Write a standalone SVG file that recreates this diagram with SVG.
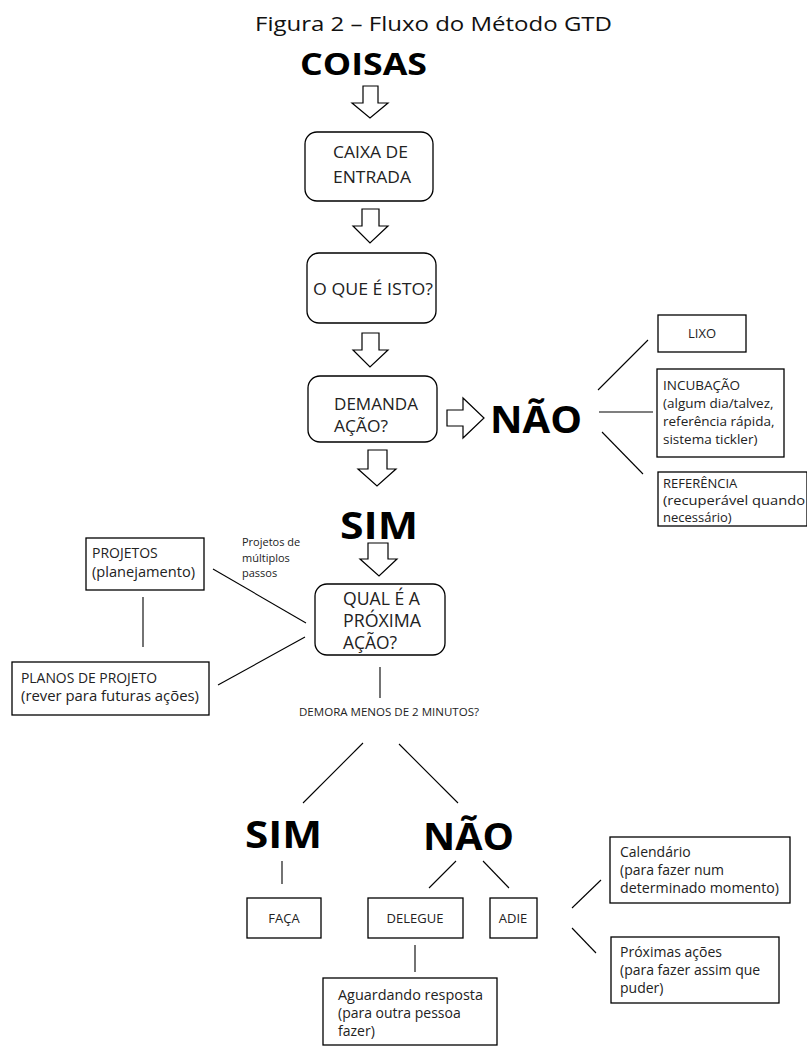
<svg xmlns="http://www.w3.org/2000/svg" width="807" height="1048" viewBox="0 0 807 1048">
<style>
  .bg{fill:#fff}
  .box{fill:#fff;stroke:#000;stroke-width:1.3}
  .arr{fill:#fff;stroke:#000;stroke-width:1.2;stroke-linejoin:miter}
  .ln{stroke:#000;stroke-width:1.1;fill:none}
  text{font-family:"Open Sans","Noto Sans","Liberation Sans",sans-serif;fill:#111}
  .title{font-size:20px}
  .big{font-size:38px;font-weight:700;fill:#000}
  .cap{font-size:17px;fill:#222}
  .sm{font-size:14px;fill:#222}
  .xs{font-size:11px;fill:#222}
  .mid{text-anchor:middle}
</style>
<rect class="bg" x="0" y="0" width="807" height="1048"/>

<g id="title"><text class="title" x="255" y="31" textLength="357" lengthAdjust="spacingAndGlyphs">Figura 2 – Fluxo do Método GTD</text></g>

<g id="coisas"><text class="big" x="300" y="75" style="font-size:31px" textLength="127" lengthAdjust="spacingAndGlyphs">COISAS</text></g>

<g id="arrows">
  <polygon class="arr" points="363,86 378,86 378,103 388,103 370,118 352,103 363,103"/>
  <polygon class="arr" points="362,209 379,209 379,226 388,226 370,243 353,226 362,226"/>
  <polygon class="arr" points="362,333 379,333 379,350 388,350 370,367 353,350 362,350"/>
  <polygon class="arr" points="447,410 463,410 463,398 484,418 463,438 463,426 447,426"/>
  <polygon class="arr" points="368,450 387,450 387,469 396,469 377,486 358,469 368,469"/>
  <polygon class="arr" points="368,543 388,543 388,559 397,559 379,576 360,559 368,559"/>
</g>

<g id="caixa">
  <rect class="box" x="305" y="132" width="128" height="69" rx="12"/>
  <text class="cap" x="333" y="158" textLength="75" lengthAdjust="spacingAndGlyphs">CAIXA DE</text>
  <text class="cap" x="333" y="183" textLength="78" lengthAdjust="spacingAndGlyphs">ENTRADA</text>
</g>

<g id="oque">
  <rect class="box" x="307" y="253" width="129" height="70" rx="12"/>
  <text class="cap" x="313" y="295" textLength="120" lengthAdjust="spacingAndGlyphs">O QUE É ISTO?</text>
</g>

<g id="demanda">
  <rect class="box" x="308" y="376" width="129" height="66" rx="12"/>
  <text class="cap" x="334" y="410" textLength="84" lengthAdjust="spacingAndGlyphs">DEMANDA</text>
  <text class="cap" x="334" y="432" textLength="54" lengthAdjust="spacingAndGlyphs">AÇÃO?</text>
</g>

<g id="nao1"><text class="big" x="490" y="433" textLength="92" lengthAdjust="spacingAndGlyphs">NÃO</text></g>

<g id="lixo">
  <rect class="box" x="658" y="315" width="88" height="37"/>
  <text class="sm mid" x="702" y="338" style="font-size:13px">LIXO</text>
</g>

<g id="incubacao">
  <rect class="box" x="657" y="369" width="127" height="88"/>
  <text class="sm" x="663" y="390" style="font-size:13.5px">INCUBAÇÃO</text>
  <text class="sm" x="663" y="408" style="font-size:13.5px">(algum dia/talvez,</text>
  <text class="sm" x="663" y="426" style="font-size:13.5px">referência rápida,</text>
  <text class="sm" x="663" y="444" style="font-size:13.5px">sistema tickler)</text>
</g>

<g id="referencia">
  <rect class="box" x="658" y="472" width="149" height="54"/>
  <text class="sm" x="663" y="488" style="font-size:13px">REFERÊNCIA</text>
  <text class="sm" x="663" y="504.5" style="font-size:13px" textLength="142" lengthAdjust="spacingAndGlyphs">(recuperável quando</text>
  <text class="sm" x="663" y="521.5" style="font-size:13px">necessário)</text>
</g>

<g id="sim1"><text class="big" x="340" y="539" textLength="78" lengthAdjust="spacingAndGlyphs">SIM</text></g>

<g id="multiplos">
  <text class="xs" x="242" y="546">Projetos de</text>
  <text class="xs" x="242" y="562">múltiplos</text>
  <text class="xs" x="242" y="577">passos</text>
</g>

<g id="projetos">
  <rect class="box" x="86" y="538" width="118" height="52"/>
  <text class="sm" x="92" y="558">PROJETOS</text>
  <text class="sm" x="92" y="577" textLength="103" lengthAdjust="spacingAndGlyphs">(planejamento)</text>
</g>

<g id="planos">
  <rect class="box" x="12" y="662" width="197" height="53"/>
  <text class="sm" x="21" y="683" textLength="136" lengthAdjust="spacingAndGlyphs">PLANOS DE PROJETO</text>
  <text class="sm" x="21" y="701" textLength="178" lengthAdjust="spacingAndGlyphs">(rever para futuras ações)</text>
</g>

<g id="qual">
  <rect class="box" x="315" y="584" width="130" height="71" rx="12"/>
  <text class="cap" x="343" y="605" style="font-size:18px" textLength="77" lengthAdjust="spacingAndGlyphs">QUAL É A</text>
  <text class="cap" x="343" y="627" style="font-size:18px" textLength="78" lengthAdjust="spacingAndGlyphs">PRÓXIMA</text>
  <text class="cap" x="343" y="649" style="font-size:18px" textLength="54" lengthAdjust="spacingAndGlyphs">AÇÃO?</text>
</g>

<g id="demora"><text class="xs" x="299" y="716" style="font-size:10.5px" textLength="180" lengthAdjust="spacingAndGlyphs">DEMORA MENOS DE 2 MINUTOS?</text></g>

<g id="sim2"><text class="big" x="245" y="848" textLength="77" lengthAdjust="spacingAndGlyphs">SIM</text></g>
<g id="nao2"><text class="big" x="423" y="850" textLength="91" lengthAdjust="spacingAndGlyphs">NÃO</text></g>

<g id="faca">
  <rect class="box" x="247" y="898" width="74" height="40"/>
  <text class="sm mid" x="284" y="923" style="font-size:13px">FAÇA</text>
</g>
<g id="delegue">
  <rect class="box" x="368" y="898" width="95" height="40"/>
  <text class="sm mid" x="415" y="923" style="font-size:13px">DELEGUE</text>
</g>
<g id="adie">
  <rect class="box" x="490" y="898" width="47" height="40"/>
  <text class="sm mid" x="513" y="923" style="font-size:13px">ADIE</text>
</g>

<g id="calendario">
  <rect class="box" x="610" y="837" width="180" height="66"/>
  <text class="sm" x="620" y="857">Calendário</text>
  <text class="sm" x="620" y="875">(para fazer num</text>
  <text class="sm" x="620" y="893" textLength="159" lengthAdjust="spacingAndGlyphs">determinado momento)</text>
</g>

<g id="proximas">
  <rect class="box" x="611" y="937" width="168" height="66"/>
  <text class="sm" x="620" y="957">Próximas ações</text>
  <text class="sm" x="620" y="975">(para fazer assim que</text>
  <text class="sm" x="620" y="993">puder)</text>
</g>

<g id="aguardando">
  <rect class="box" x="323" y="978" width="174" height="67"/>
  <text class="sm" x="338" y="1000" textLength="145" lengthAdjust="spacingAndGlyphs">Aguardando resposta</text>
  <text class="sm" x="338" y="1018">(para outra pessoa</text>
  <text class="sm" x="338" y="1036">fazer)</text>
</g>

<g id="connectors">
  <line class="ln" x1="598" y1="390" x2="648" y2="340"/>
  <line class="ln" x1="599" y1="412" x2="653" y2="412"/>
  <line class="ln" x1="602" y1="432" x2="643" y2="474"/>
  <line class="ln" x1="213" y1="569" x2="306" y2="623"/>
  <line class="ln" x1="218" y1="685" x2="305" y2="637"/>
  <line class="ln" x1="143" y1="597" x2="143" y2="647"/>
  <line class="ln" x1="380" y1="667" x2="380" y2="698"/>
  <line class="ln" x1="363" y1="743" x2="303" y2="803"/>
  <line class="ln" x1="399" y1="744" x2="458" y2="803"/>
  <line class="ln" x1="282" y1="861" x2="282" y2="884"/>
  <line class="ln" x1="456" y1="861" x2="429" y2="888"/>
  <line class="ln" x1="483" y1="861" x2="509" y2="888"/>
  <line class="ln" x1="415" y1="945" x2="415" y2="972"/>
  <line class="ln" x1="572" y1="908" x2="601" y2="880"/>
  <line class="ln" x1="572" y1="928" x2="596" y2="953"/>
</g>
</svg>
